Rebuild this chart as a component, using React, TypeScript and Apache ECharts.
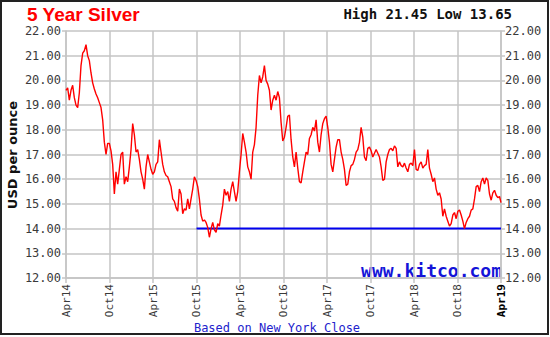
import React, { useEffect, useRef } from "react";
import * as echarts from "echarts";

// x-axis tick labels (every 6 months, Apr 2014 .. Apr 2019)
const tickLabels = ["Apr14", "Oct14", "Apr15", "Oct15", "Apr16", "Oct16", "Apr17", "Oct17", "Apr18", "Oct18", "Apr19"];
const monthsPerTick = 6;

// weekly silver closes (USD / oz)
const prices2014 = [
  19.6, 19.7, 19.2, 19.6, 19.8, 19.3, 19.0, 18.9, 19.5, 20.6,
  21.1, 21.2, 21.45, 21.0, 20.8, 20.3, 19.9, 19.65, 19.45, 19.3,
  19.1, 18.9, 18.4, 17.5, 17.0, 17.45, 17.45, 17.15, 16.6, 15.4,
  16.3, 15.8, 16.4, 17.0, 17.1, 15.8, 16.1, 15.9, 16.5,
];
const prices2015 = [
  17.2, 18.25, 17.8, 17.1, 17.2, 16.8, 16.3, 16.0, 15.6, 16.5,
  17.0, 16.7, 16.4, 16.2, 16.3, 16.6, 16.7, 17.6, 17.1, 16.6,
  16.3, 16.15, 16.1, 15.9, 15.7, 15.2, 15.1, 14.85, 14.7, 15.6,
  15.4, 14.6, 14.8, 14.75, 15.2, 14.8, 15.2, 15.6, 16.1, 15.95,
  15.7, 15.2, 14.55, 14.3, 14.35, 14.25, 14.05, 13.65, 14.0, 14.25,
  13.95, 13.85,
];
const prices2016 = [
  14.2, 14.1, 14.55, 14.95, 15.6, 15.35, 15.5, 15.1, 15.6, 15.9,
  15.5, 15.1, 15.5, 16.3, 17.0, 17.85, 17.5, 17.1, 16.5, 16.3,
  16.0, 17.1, 17.4, 18.1, 19.4, 20.2, 19.9, 20.15, 20.6, 20.0,
  19.85, 19.6, 18.8, 19.2, 19.4, 19.2, 19.55, 19.3, 18.3, 17.55,
  17.7, 18.1, 18.55, 18.6, 17.6, 16.9, 16.5, 17.1, 16.45, 15.9,
  15.85, 16.3,
];
const prices2017 = [
  16.7, 17.1, 17.0, 17.65, 17.8, 18.1, 17.95, 18.4, 17.5, 17.1,
  17.8, 18.25, 18.45, 18.55, 18.1, 17.5, 16.6, 16.3, 16.8, 17.3,
  17.6, 17.6, 17.1, 16.8, 16.4, 15.75, 15.8, 16.3, 16.55, 16.6,
  16.8, 17.1, 17.2, 17.5, 18.1, 17.7, 16.9, 16.75, 17.25, 17.3,
  17.15, 16.9, 17.05, 17.2, 17.05, 16.9, 16.5, 15.95, 16.0, 16.7,
  17.0, 17.2,
];
const prices2018 = [
  17.25, 17.15, 17.35, 17.25, 16.5, 16.7, 16.55, 16.5, 16.65, 16.45,
  16.3, 16.6, 16.65, 16.55, 17.2, 16.4, 16.35, 16.6, 16.7, 16.45,
  16.55, 16.6, 17.2, 16.45, 16.2, 15.9, 16.05, 15.6, 15.35, 15.45,
  15.2, 14.5, 14.8, 14.5, 14.3, 14.1, 14.2, 14.55, 14.65, 14.4,
  14.7, 14.75, 14.55, 14.3, 14.0, 14.25, 14.4, 14.5, 14.75, 14.8,
  15.2, 15.7,
];
const prices2019 = [
  15.75, 15.5, 15.9, 16.05, 15.8, 16.05, 15.95, 15.4, 15.15, 15.45,
  15.55, 15.35, 15.25, 15.3, 15.05,
];

const highValue = 21.45;
const lowValue = 13.65;
const supportLevel = 14;
const supportFrom = "Oct15";

const yMin = 12;
const yMax = 22;

const allPrices = [...prices2014, ...prices2015, ...prices2016, ...prices2017, ...prices2018, ...prices2019];
const monthsPerWeek = 7 / 30.4375;
const xMax = (tickLabels.length - 1) * monthsPerTick;
const priceData = allPrices.map((p, i) => [Math.min(i * monthsPerWeek, xMax), p]);
const supportData = [
  [tickLabels.indexOf(supportFrom) * monthsPerTick, supportLevel],
  [xMax, supportLevel],
];

const MONO = "'DejaVu Sans Mono', 'Liberation Mono', monospace";
const GRID = "#c4c4c4";

export default function App() {
  const ref = useRef<HTMLDivElement>(null);
  useEffect(() => {
    if (!ref.current) return;
    const chart = echarts.init(ref.current, null, { renderer: "svg" });
    const yAxisBase = {
      type: "value",
      min: yMin,
      max: yMax,
      interval: 1,
      axisLine: { show: true, lineStyle: { color: GRID, width: 1.5 } },
      axisTick: { show: true, length: 4, lineStyle: { color: GRID, width: 1.5 } },
      axisLabel: {
        formatter: (v: number) => v.toFixed(2),
        fontFamily: MONO,
        fontSize: 12,
        color: "#3a3a3a",
      },
    };
    chart.setOption({
      animation: false,
      backgroundColor: "#ffffff",
      grid: { left: 66, right: 49, top: 31, bottom: 59, show: false },
      xAxis: {
        type: "value",
        min: 0,
        max: xMax,
        interval: monthsPerTick,
        axisLine: { show: true, onZero: false, lineStyle: { color: GRID, width: 1.5 } },
        axisTick: { show: true, length: 5, lineStyle: { color: GRID, width: 1.5 } },
        splitLine: { show: true, lineStyle: { color: GRID, width: 1.5 } },
        axisLabel: {
          rotate: 90,
          margin: 6,
          fontFamily: MONO,
          fontSize: 11,
          color: "#3a3a3a",
          showMinLabel: true,
          showMaxLabel: true,
          formatter: (v: number) => {
            const idx = Math.round(v / monthsPerTick);
            const t = tickLabels[idx] ?? "";
            return idx === tickLabels.length - 1 ? `{b|${t}}` : t;
          },
          rich: {
            b: { fontFamily: MONO, fontSize: 11, fontWeight: "bold", color: "#000" },
          },
        },
      },
      yAxis: [
        {
          ...yAxisBase,
          position: "left",
          axisLabel: { ...yAxisBase.axisLabel, margin: 5 },
          splitLine: { show: true, lineStyle: { color: GRID, width: 1.5 } },
        },
        {
          ...yAxisBase,
          position: "right",
          axisLabel: { ...yAxisBase.axisLabel, margin: 4 },
          splitLine: { show: false },
        },
      ],
      series: [
        {
          type: "line",
          data: supportData,
          showSymbol: false,
          lineStyle: { color: "#0000ee", width: 2 },
          z: 2,
        },
        {
          type: "line",
          data: priceData,
          showSymbol: false,
          lineStyle: { color: "#ff0000", width: 1.4 },
          z: 3,
        },
      ],
      graphic: [
        {
          type: "rect",
          shape: { x: 1, y: 1, width: 547, height: 333 },
          style: { fill: "none", stroke: "#222", lineWidth: 2 },
          silent: true,
        },
        {
          type: "text",
          x: 27,
          y: 14,
          style: {
            text: "5 Year Silver",
            fill: "#ff0000",
            font: "bold 19px 'Liberation Sans', Arial, sans-serif",
            textVerticalAlign: "middle",
          },
        },
        {
          type: "text",
          x: 512,
          y: 14,
          style: {
            text: `High ${highValue.toFixed(2)} Low ${lowValue.toFixed(2)}`,
            fill: "#111",
            font: `bold 14px ${MONO}`,
            textAlign: "right",
            textVerticalAlign: "middle",
          },
        },
        {
          type: "text",
          x: 12,
          y: 155,
          rotation: Math.PI / 2,
          style: {
            text: "USD per ounce",
            fill: "#111",
            font: "bold 13px 'DejaVu Sans', sans-serif",
            textAlign: "center",
            textVerticalAlign: "middle",
          },
        },
        {
          type: "text",
          x: 502,
          y: 270,
          style: {
            text: "www.kitco.com",
            fill: "#1414d8",
            font: `bold 18px ${MONO}`,
            textAlign: "right",
            textVerticalAlign: "middle",
          },
        },
        {
          type: "text",
          x: 277,
          y: 328,
          style: {
            text: "Based on New York Close",
            fill: "#2222cc",
            font: `12px ${MONO}`,
            textAlign: "center",
            textVerticalAlign: "middle",
          },
        },
      ],
    });
    return () => chart.dispose();
  }, []);
  return (
    <div
      ref={ref}
      style={{ position: "absolute", left: 0, top: 0, width: 550, height: 337 }}
    />
  );
}
